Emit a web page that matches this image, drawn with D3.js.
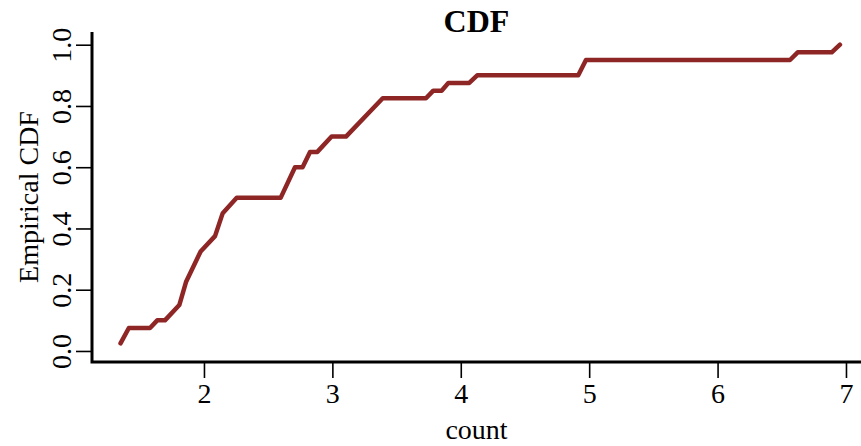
<!DOCTYPE html>
<html>
<head>
<meta charset="utf-8">
<script src="https://cdn.jsdelivr.net/npm/d3@7"></script>
<style>
  body { margin: 0; background: #fff; }
  svg { display: block; }
  text { font-family: "Liberation Serif", "Times New Roman", serif; fill: #000; }
</style>
</head>
<body>
<svg width="861" height="446"></svg>
<script>
// ecdf vertices
var countVals = [1.35, 1.415, 1.58, 1.636, 1.696, 1.808, 1.86, 1.974, 2.086, 2.146, 2.255,
  2.597, 2.709, 2.768, 2.826, 2.883, 2.994, 3.106, 3.392, 3.729, 3.786, 3.851, 3.903,
  4.066, 4.128, 4.915, 4.975, 6.564, 6.624, 6.889, 6.953];
var cdfVals = [0.025, 0.075, 0.075, 0.1, 0.1, 0.15, 0.225, 0.325, 0.375, 0.45, 0.5,
  0.5, 0.6, 0.6, 0.65, 0.65, 0.7, 0.7, 0.825, 0.825, 0.85, 0.85, 0.875,
  0.875, 0.9, 0.9, 0.95, 0.95, 0.975, 0.975, 1.0];
var xTicks = [2, 3, 4, 5, 6, 7];
var yTicks = [0, 0.2, 0.4, 0.6, 0.8, 1.0];

var svg = d3.select("svg"),
  margin = { top: 32, right: 0, bottom: 84, left: 92 },
  width = +svg.attr("width") - margin.left - margin.right,
  height = +svg.attr("height") - margin.top - margin.bottom,
  g = svg.append("g").attr("transform", "translate(" + margin.left + "," + margin.top + ")");

var x = d3.scaleLinear().domain([1.128, 7.117]).range([0, width]);
var y = d3.scaleLinear().domain([-0.036, 1.0415]).range([height, 0]);

var data = countVals.map(function(d, i) { return { x: d, y: cdfVals[i] }; });

var line = d3.line()
  .x(function(d) { return x(d.x); })
  .y(function(d) { return y(d.y); });

g.append("path")
  .datum(data)
  .attr("fill", "none")
  .attr("stroke", "#8f2626")
  .attr("stroke-width", 4.5)
  .attr("stroke-linejoin", "round")
  .attr("stroke-linecap", "round")
  .attr("d", line);

// x axis
var xAxis = g.append("g")
  .attr("transform", "translate(0," + height + ")")
  .call(d3.axisBottom(x).tickValues(xTicks).tickFormat(d3.format("d")).tickSize(16).tickSizeOuter(0));
xAxis.select(".domain").remove();
xAxis.selectAll(".tick line").attr("stroke", "#000").attr("stroke-width", 1.6);
xAxis.selectAll(".tick text")
  .attr("font-size", 28)
  .attr("y", 41)
  .attr("dy", null);

// y axis
var yAxis = g.append("g")
  .call(d3.axisLeft(y).tickValues(yTicks).tickFormat(d3.format(".1f")).tickSize(16).tickSizeOuter(0));
yAxis.select(".domain").remove();
yAxis.selectAll(".tick line").attr("stroke", "#000").attr("stroke-width", 1.6);
yAxis.selectAll(".tick text")
  .attr("font-size", 28)
  .attr("x", 0)
  .attr("dy", null)
  .attr("text-anchor", "middle")
  .attr("transform", "translate(-21,0) rotate(-90)");

// L shaped box
g.append("path")
  .attr("fill", "none")
  .attr("stroke", "#000")
  .attr("stroke-width", 3)
  .attr("d", "M0,0V" + height + "H" + width);

// titles
svg.append("text")
  .attr("x", margin.left + width / 2)
  .attr("y", 32)
  .attr("text-anchor", "middle")
  .attr("font-size", 32)
  .attr("font-weight", "bold")
  .text("CDF");

svg.append("text")
  .attr("x", margin.left + width / 2)
  .attr("y", 439)
  .attr("text-anchor", "middle")
  .attr("font-size", 28)
  .text("count");

svg.append("text")
  .attr("transform", "translate(38," + (margin.top + height / 2) + ") rotate(-90)")
  .attr("text-anchor", "middle")
  .attr("font-size", 28)
  .text("Empirical CDF");
</script>
</body>
</html>
